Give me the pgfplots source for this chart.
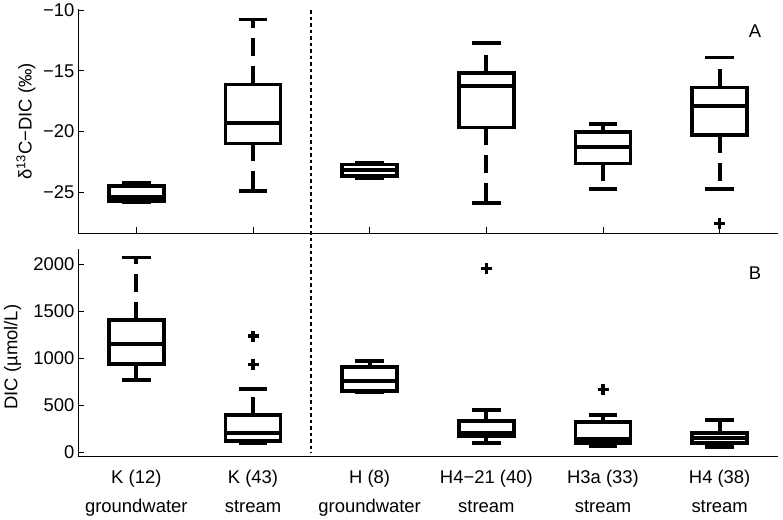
\documentclass[border=0pt]{standalone}
\usepackage{fontspec}
\setmainfont{Liberation Sans}
\usepackage{pgfplots}
\pgfplotsset{compat=1.18}
\usepgfplotslibrary{statistics}

\pgfplotsset{
  boxplot/draw/lower whisker/.code={%
    \draw[/pgfplots/boxplot/every whisker/.try, dash pattern=on 18bp off 10bp]
      (boxplot cs:\pgfplotsboxplotvalue{lower quartile}) -- (boxplot cs:\pgfplotsboxplotvalue{lower whisker});
    \draw[/pgfplots/boxplot/every whisker/.try]
      (boxplot whisker cs:\pgfplotsboxplotvalue{lower whisker},0) -- (boxplot whisker cs:\pgfplotsboxplotvalue{lower whisker},1);
  },
  boxplot/draw/upper whisker/.code={%
    \draw[/pgfplots/boxplot/every whisker/.try, dash pattern=on 18bp off 10bp]
      (boxplot cs:\pgfplotsboxplotvalue{upper quartile}) -- (boxplot cs:\pgfplotsboxplotvalue{upper whisker});
    \draw[/pgfplots/boxplot/every whisker/.try]
      (boxplot whisker cs:\pgfplotsboxplotvalue{upper whisker},0) -- (boxplot whisker cs:\pgfplotsboxplotvalue{upper whisker},1);
  },
  myaxis/.style={
    scale only axis, width=700bp,
    xmin=0.5, xmax=6.5, xtick={1,2,3,4,5,6},
    axis x line*=bottom, axis y line*=left,
    tick align=inside, major tick length=6bp,
    every tick/.style={black, line width=0.6bp},
    axis line style={line width=0.8bp, black},
    tick label style={font=\fontsize{18.5}{22}\selectfont},
    /pgf/number format/assume math mode=true,
    /pgf/number format/1000 sep={},
    clip=false,
    boxplot/draw direction=y,
    boxplot/box extend=0.47,
    boxplot/whisker extend=0.245,
  },
  bx/.style={black, line width=3.7bp, solid, mark=+, mark size=5.5bp, mark options={solid, line width=3.5bp}},
}

\begin{document}
\begin{tikzpicture}
\useasboundingbox (0,0) rectangle (783bp,520bp);

% ---------- Panel A ----------
\begin{axis}[myaxis,
  at={(78bp,286.7bp)}, anchor=south west,
  height=224bp,
  ymin=-28.37, ymax=-9.94,
  ytick={-25,-20,-15,-10},
  yticklabels={−25,−20,−15,−10},
  xticklabels={},
  every axis y label/.style={at={(axis description cs:-0.0661,0.5)}, rotate=90, anchor=base, font=\fontsize{18.5}{22}\selectfont},
  ylabel={δ\textsuperscript{13}C−DIC (‰)},
]
\addplot[bx, boxplot prepared={lower whisker=-25.83, lower quartile=-25.72, median=-25.36, upper quartile=-24.46, upper whisker=-24.18, draw position=1}] coordinates {};
\addplot[bx, boxplot prepared={lower whisker=-24.87, lower quartile=-20.97, median=-19.27, upper quartile=-16.12, upper whisker=-10.77, draw position=2}] coordinates {};
\addplot[bx, boxplot prepared={lower whisker=-23.85, lower quartile=-23.64, median=-23.17, upper quartile=-22.70, upper whisker=-22.57, draw position=3}] coordinates {};
\addplot[bx, boxplot prepared={lower whisker=-25.86, lower quartile=-19.66, median=-16.23, upper quartile=-15.21, upper whisker=-12.69, draw position=4}] coordinates {};
\addplot[bx, boxplot prepared={lower whisker=-24.71, lower quartile=-22.62, median=-21.25, upper quartile=-20.04, upper whisker=-19.38, draw position=5}] coordinates {};
\addplot[bx, boxplot prepared={lower whisker=-24.71, lower quartile=-20.29, median=-17.87, upper quartile=-16.37, upper whisker=-13.90, draw position=6}] coordinates {(6,-27.55)};
\coordinate (sepTop) at (axis cs:2.5,-10);
\node[font=\fontsize{18.5}{22}\selectfont] at (rel axis cs:0.967,0.901) {A};
\end{axis}

% ---------- Panel B ----------
\begin{axis}[myaxis,
  at={(78bp,63.3bp)}, anchor=south west,
  height=207.4bp,
  ymin=-46.8, ymax=2160,
  ytick={0,500,1000,1500,2000},
  xtick style={draw=none},
  xticklabels={{K (12)\\groundwater},{K (43)\\stream},{H (8)\\groundwater},{H4−21 (40)\\stream},{H3a (33)\\stream},{H4 (38)\\stream}},
  xticklabel style={align=center, font=\fontsize{18.5}{29}\selectfont, yshift=-10bp},
  every axis y label/.style={at={(axis description cs:-0.0867,0.48)}, rotate=90, anchor=base, font=\fontsize{18.5}{22}\selectfont},
  ylabel={DIC (µmol/L)},
]
\addplot[bx, boxplot prepared={lower whisker=769, lower quartile=943, median=1149, upper quartile=1407, upper whisker=2074, draw position=1}] coordinates {};
\addplot[bx, boxplot prepared={lower whisker=96, lower quartile=120, median=209, upper quartile=397, upper whisker=673, draw position=2}] coordinates {(2,1237) (2,936)};
\addplot[bx, boxplot prepared={lower whisker=645, lower quartile=655, median=758, upper quartile=904, upper whisker=971, draw position=3}] coordinates {};
\addplot[bx, boxplot prepared={lower whisker=96, lower quartile=173, median=209, upper quartile=333, upper whisker=450, draw position=4}] coordinates {(4,1957)};
\addplot[bx, boxplot prepared={lower whisker=67, lower quartile=102, median=141, upper quartile=326, upper whisker=400, draw position=5}] coordinates {(5,670)};
\addplot[bx, boxplot prepared={lower whisker=53, lower quartile=96, median=155, upper quartile=205, upper whisker=344, draw position=6}] coordinates {};
\coordinate (sepBot) at (axis cs:2.5,0);
\node[font=\fontsize{18.5}{22}\selectfont] at (rel axis cs:0.967,0.883) {B};
\end{axis}

\draw[black, line width=1.8bp, dash pattern=on 3.5bp off 3bp] (sepTop) -- (sepBot);
\end{tikzpicture}
\end{document}
